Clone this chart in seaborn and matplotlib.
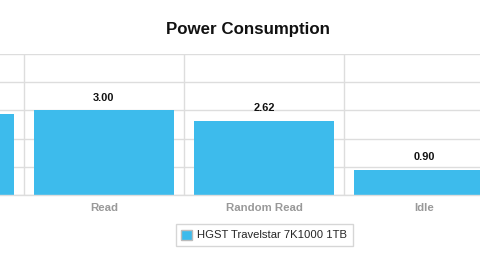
import matplotlib
matplotlib.use("Agg")
import matplotlib.pyplot as plt
import seaborn as sns
import pandas as pd

# Power draw (W) per workload
categories = ["Write", "Read", "Random Read", "Idle"]
power_watts = [2.86, 3.00, 2.62, 0.90]
series_name = "HGST Travelstar 7K1000 1TB"
y_ticks = [0, 1, 2, 3, 4, 5]

sns.set_theme(style="white")
plt.rcParams["font.family"] = ["Liberation Sans", "DejaVu Sans"]

W, H = 480, 266
fig = plt.figure(figsize=(W / 100, H / 100), dpi=100)
fig.patch.set_facecolor("white")

# Plot area is wider than the canvas; the first category sits off the left edge
left_px, right_px, top_px, bottom_px = -136, 504, 54, 195
ax = fig.add_axes([left_px / W, 1 - bottom_px / H,
                   (right_px - left_px) / W, (bottom_px - top_px) / H])

df = pd.DataFrame({"category": categories, "power": power_watts})
bar_color = "#3dbbec"
sns.barplot(data=df, x="category", y="power", color=bar_color,
            width=0.875, saturation=1, label=series_name, ax=ax)
if ax.get_legend() is not None:
    ax.get_legend().remove()
for p in ax.patches:
    p.set_edgecolor("none")

ax.set_xlim(-0.5, len(categories) - 0.5)
ax.set_ylim(y_ticks[0], y_ticks[-1])
ax.set_yticks(y_ticks)
ax.set_yticklabels([])
ax.set_xlabel("")
ax.set_ylabel("")

# Only the categories that fall on the canvas carry text
visible = [False, True, True, True]
ax.set_xticks(range(len(categories)))
ax.set_xticklabels([c if v else "" for c, v in zip(categories, visible)])

grid_c = "#dddddd"
ax.set_xticks([i + 0.5 for i in range(len(categories) - 1)], minor=True)
ax.grid(False)
ax.grid(axis="y", which="major", color=grid_c, lw=1)
ax.grid(axis="x", which="minor", color=grid_c, lw=1)
ax.set_axisbelow(True)
for s in ["top", "left", "right"]:
    ax.spines[s].set_visible(False)
ax.spines["bottom"].set_color(grid_c)
ax.spines["bottom"].set_linewidth(1)

ax.tick_params(axis="x", which="both", length=0, pad=5.5,
               labelsize=8.2, labelcolor="#999999")
for t in ax.get_xticklabels():
    t.set_fontweight("bold")
ax.tick_params(axis="y", length=0)

ax.bar_label(ax.containers[0],
             labels=[f"{v:.2f}" if s else "" for v, s in zip(power_watts, visible)],
             padding=5.5, fontsize=7.9, fontweight="bold", color="#111111")

fig.text(248 / W, 1 - 30 / H, "Power Consumption", ha="center", va="center",
         fontsize=12.2, fontweight="bold", color="#111111")

handles, labels = ax.get_legend_handles_labels()
leg = fig.legend(handles[:1], labels[:1], loc="center",
                 bbox_to_anchor=(264 / W, 1 - 235 / H),
                 frameon=True, fancybox=False, fontsize=8.1,
                 handlelength=1.0, handleheight=1.0, handletextpad=0.5,
                 borderpad=0.45, borderaxespad=0)
leg.get_frame().set_edgecolor("#cccccc")
leg.get_frame().set_linewidth(1)
for h in leg.legend_handles:
    h.set_edgecolor("#bbbbbb")
    h.set_linewidth(1)

fig.savefig("out.png", dpi=100)
